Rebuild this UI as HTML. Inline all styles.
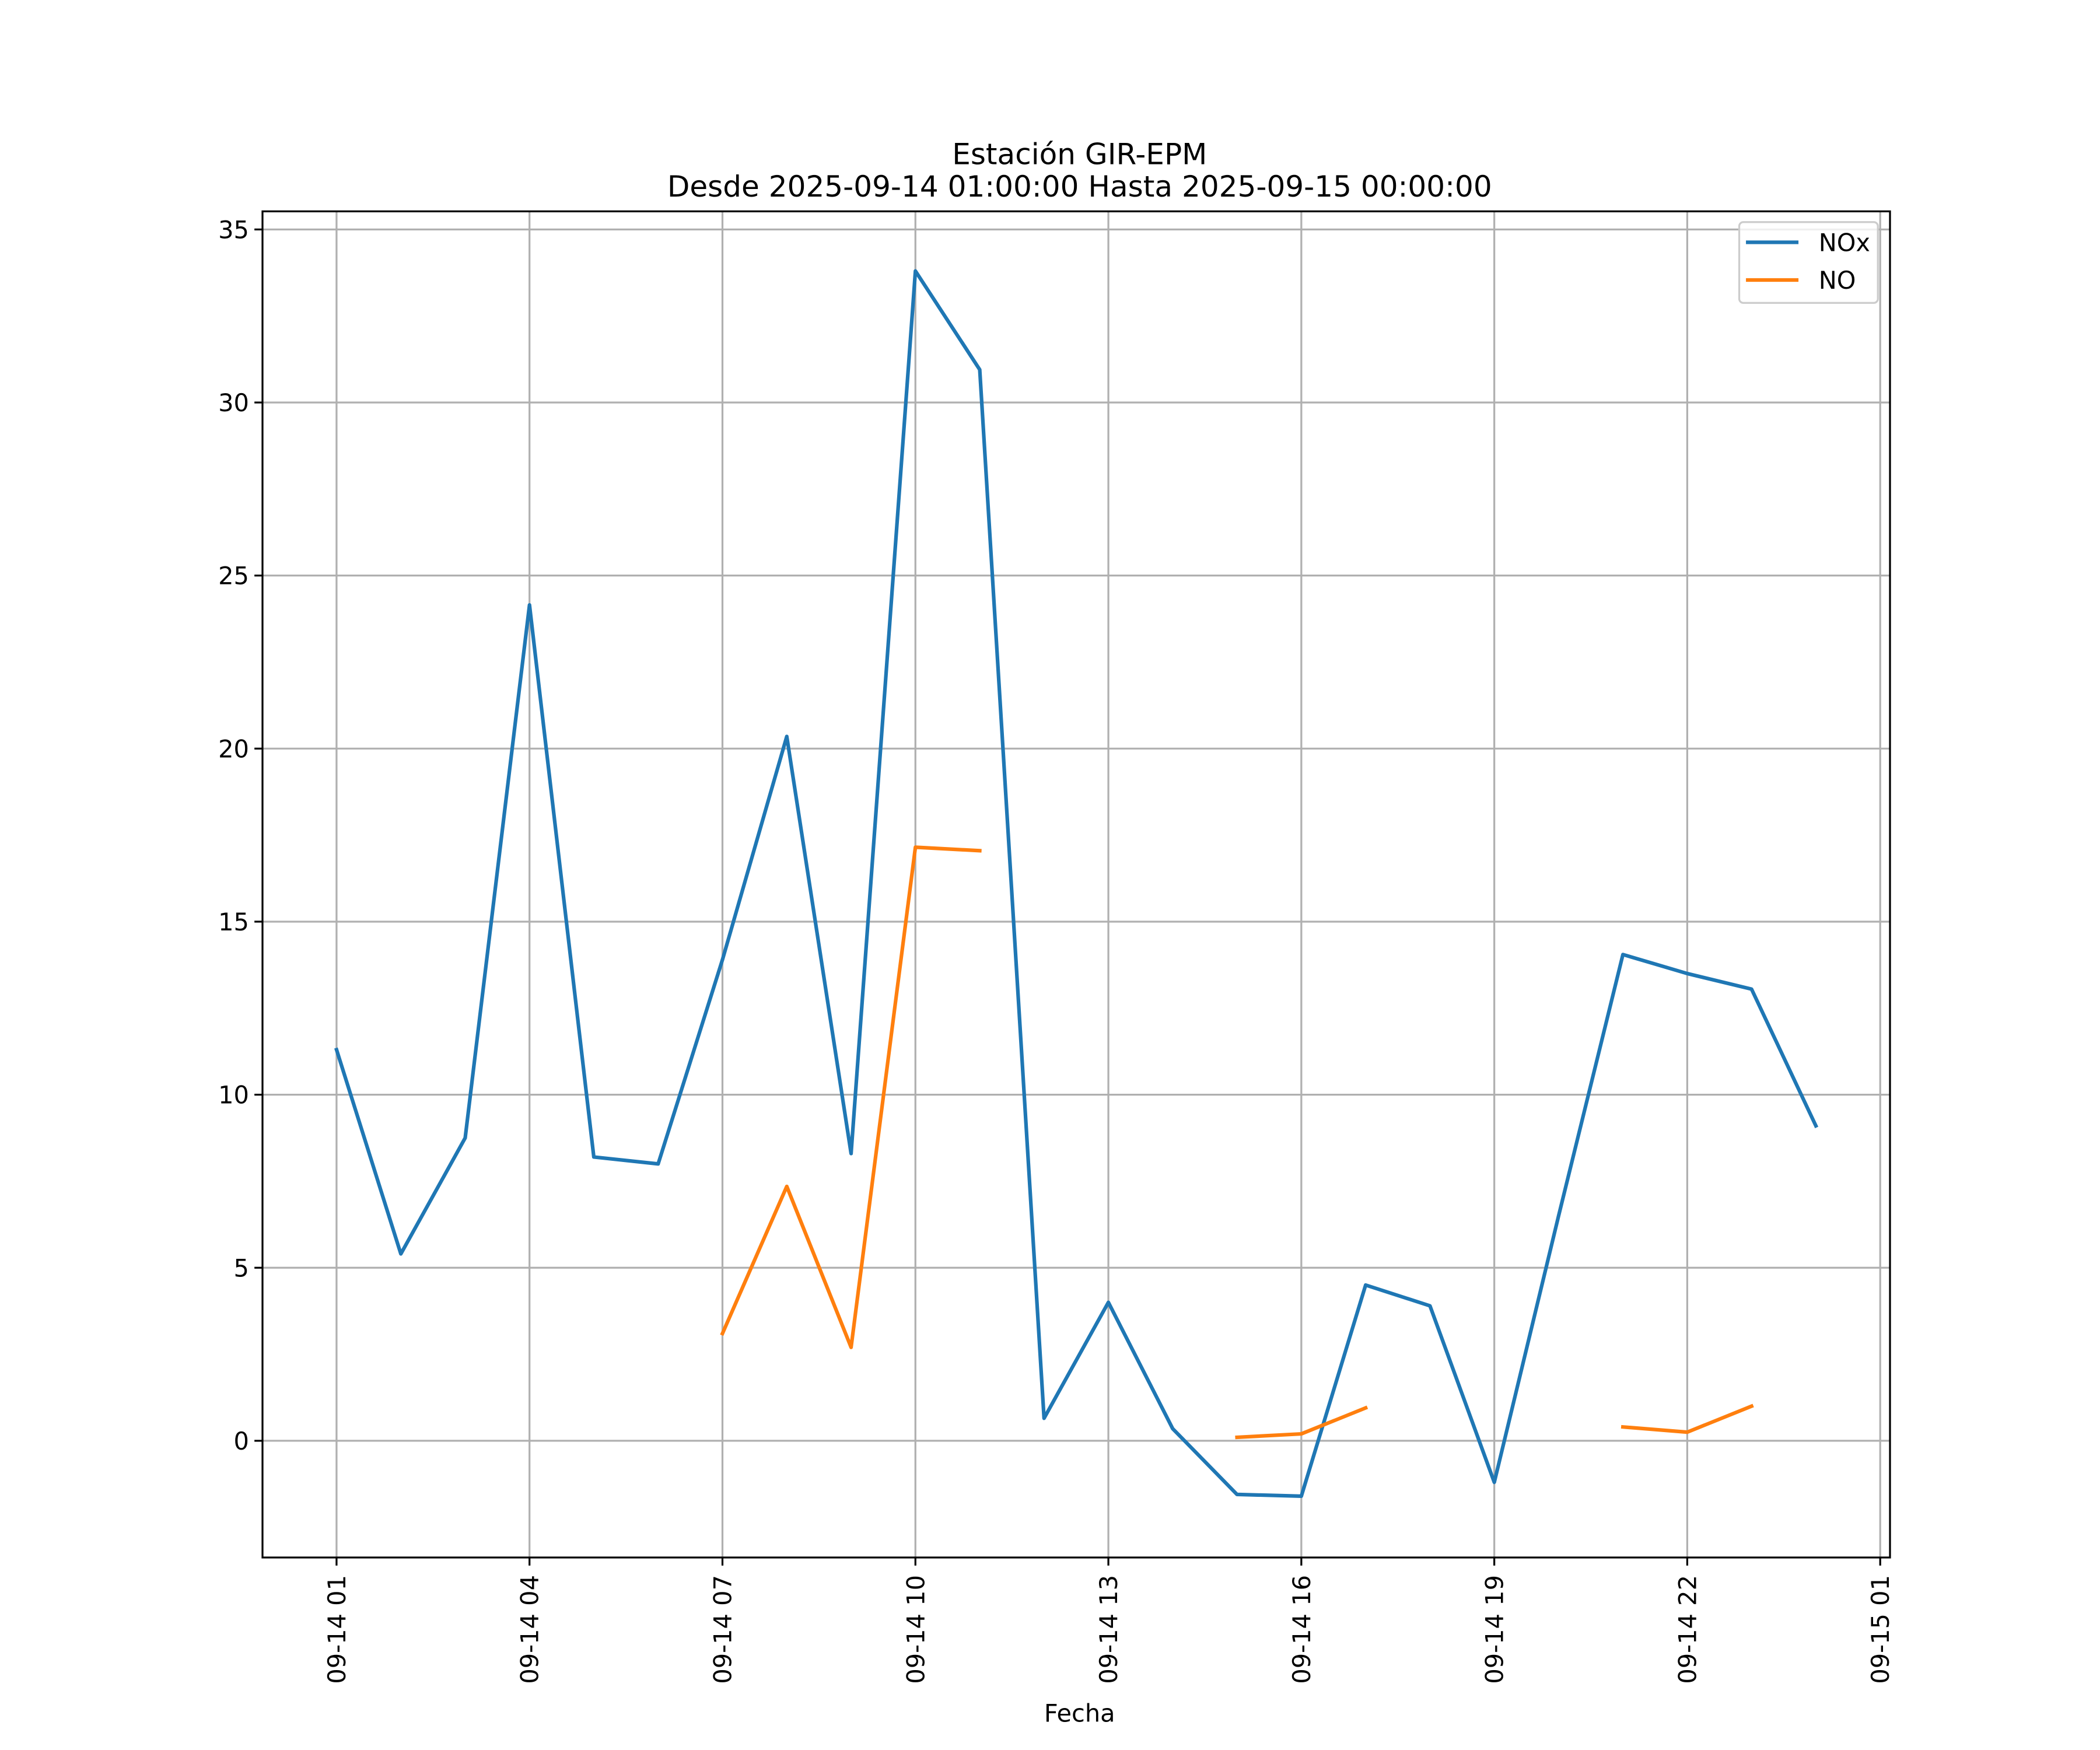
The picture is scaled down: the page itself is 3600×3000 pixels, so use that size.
<!DOCTYPE html>
<html><head><meta charset="utf-8"><style>
html,body{margin:0;padding:0;background:#fff}
svg{display:block}
text{font-family:"DejaVu Sans","Liberation Sans",sans-serif;fill:#000}
</style></head><body>
<svg id="chart" xmlns="http://www.w3.org/2000/svg" width="3600" height="3000" viewBox="0 0 1560 1300">
<rect x="0" y="0" width="1560" height="1300" fill="#fff"/>
<g id="grid"></g>
<g id="series"></g>
<rect x="195" y="157" width="1209" height="1000" fill="none" stroke="#000" stroke-width="1.4"/>
<g id="ticks"></g>
<text x="802" y="122" text-anchor="middle" font-size="21.7">Estación GIR-EPM</text>
<text x="802" y="146" text-anchor="middle" font-size="21.7">Desde 2025-09-14 01:00:00 Hasta 2025-09-15 00:00:00</text>
<text x="802" y="1279" text-anchor="middle" font-size="18">Fecha</text>
<g>
<rect x="1292" y="165" width="103" height="60" rx="3" fill="#fff" fill-opacity="0.8" stroke="#ccc" stroke-width="1.4"/>
<line x1="1297" y1="180" x2="1336" y2="180" stroke="#1f77b4" stroke-width="2.7"/>
<text x="1351" y="186.5" font-size="18">NOx</text>
<line x1="1297" y1="208" x2="1336" y2="208" stroke="#ff7f0e" stroke-width="2.7"/>
<text x="1351" y="214.5" font-size="18">NO</text>
</g>
</svg>
<script>
const hours = [1,2,3,4,5,6,7,8,9,10,11,12,13,14,15,16,17,18,19,20,21,22,23,24];
const noxValues = [11.3,5.4,8.75,24.15,8.2,8.0,13.9,20.35,8.3,33.8,30.95,0.65,4.0,0.35,-1.55,-1.6,4.5,3.9,-1.2,6.5,14.05,13.5,13.05,9.1];
const noValues = [null,null,null,null,null,null,3.1,7.35,2.7,17.15,17.05,null,null,null,0.1,0.2,0.95,null,null,null,0.4,0.25,1.0,null];
const xTickHours = [1,4,7,10,13,16,19,22,25];
const xTickLabels = ["09-14 01","09-14 04","09-14 07","09-14 10","09-14 13","09-14 16","09-14 19","09-14 22","09-15 01"];
const yTicks = [0,5,10,15,20,25,30,35];

const NS="http://www.w3.org/2000/svg";
const xS = h => 250 + (h-1)*47.78;
const yS = v => 1070.3 - v*25.71;
const grid=document.getElementById('grid'), ser=document.getElementById('series'), tk=document.getElementById('ticks');
function mk(tag, attrs, parent){const e=document.createElementNS(NS,tag);for(const k in attrs)e.setAttribute(k,attrs[k]);parent.appendChild(e);return e;}

yTicks.forEach(v=>{
  const y=yS(v);
  const g=mk('line',{x1:195,x2:1404,y1:y,y2:y,stroke:'#b0b0b0','stroke-width':1.4},grid);
  
  
  const t=mk('line',{x1:189,x2:195,y1:y,y2:y,stroke:'#000','stroke-width':1.4},tk);
  
  
  const l=mk('text',{x:185,y:y+6.5,'text-anchor':'end','font-size':18},tk);
  l.textContent=v;
  
  
});
xTickHours.forEach((h,i)=>{
  const x=xS(h);
  const g=mk('line',{x1:x,x2:x,y1:157,y2:1157,stroke:'#b0b0b0','stroke-width':1.4},grid);
  
  
  const t=mk('line',{x1:x,x2:x,y1:1157,y2:1163,stroke:'#000','stroke-width':1.4},tk);
  
  
  const l=mk('text',{x:0,y:0,'text-anchor':'end','font-size':18,transform:`translate(${x+6.5},1170) rotate(-90)`},tk);
  l.textContent=xTickLabels[i];
  
  
});
function drawSeries(vals,color,name){
  let segs=[],cur=[];
  vals.forEach((v,i)=>{ if(v===null){ if(cur.length)segs.push(cur); cur=[]; } else cur.push(xS(hours[i]).toFixed(2)+','+yS(v).toFixed(2)); });
  if(cur.length)segs.push(cur);
  segs.forEach(s=>{
    const p=mk('polyline',{points:s.join(' '),fill:'none',stroke:color,'stroke-width':2.7,'stroke-linejoin':'round','stroke-linecap':'square'},ser);
    
    
  });
}
drawSeries(noxValues,'#1f77b4','nox-line');
drawSeries(noValues,'#ff7f0e','no-line');
</script>
</body></html>
